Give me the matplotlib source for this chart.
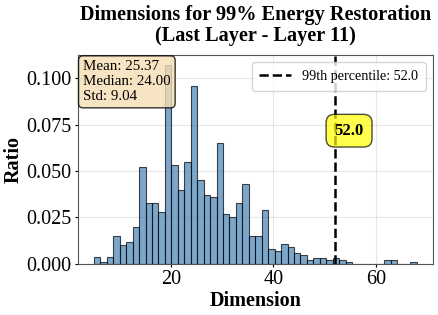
import numpy as np
import matplotlib
matplotlib.use("Agg")
import matplotlib.pyplot as plt

plt.rcParams['font.family'] = ['Liberation Serif', 'DejaVu Serif']

# Histogram (50 bins from 5 to 68), ratio per bin
dim_min, dim_max, n_bins = 5, 68, 50
ratios = [0.004, 0.001, 0.004, 0.015, 0.010, 0.012, 0.020, 0.052, 0.033, 0.033,
          0.028, 0.107, 0.053, 0.040, 0.055, 0.096, 0.045, 0.037, 0.036, 0.065,
          0.027, 0.025, 0.033, 0.043, 0.015, 0.015, 0.029, 0.008, 0.007, 0.011,
          0.009, 0.006, 0.005, 0.002, 0.003, 0.003, 0.002, 0.003, 0.002, 0.001,
          0.000, 0.000, 0.000, 0.000, 0.000, 0.002, 0.002, 0.000, 0.000, 0.001]
percentile_99 = 52.0
stats = {"Mean": 25.37, "Median": 24.00, "Std": 9.04}

edges = np.linspace(dim_min, dim_max, n_bins + 1)
centers = (edges[:-1] + edges[1:]) / 2

fig = plt.figure(figsize=(4.39, 3.15), dpi=100)
ax = fig.add_axes([0.177, 0.162, 0.809, 0.663])

ax.hist(centers, bins=edges, weights=ratios, color='steelblue', alpha=0.7,
        edgecolor='black', linewidth=0.8)
ax.axvline(percentile_99, color='black', linestyle='--', linewidth=1.8,
           label=f'99th percentile: {percentile_99:.1f}')

ax.set_title('Dimensions for 99% Energy Restoration\n(Last Layer - Layer 11)',
             fontsize=14.6, fontweight='bold', linespacing=1.05, pad=10)
ax.set_xlabel('Dimension', fontsize=14.5, fontweight='bold', labelpad=1)
ax.set_ylabel('Ratio', fontsize=14.5, fontweight='bold', labelpad=1.5)
ax.tick_params(axis='both', labelsize=14.5, length=2.5, pad=2)
ax.set_yticks([0.0, 0.025, 0.05, 0.075, 0.1])
ax.yaxis.set_major_formatter(matplotlib.ticker.FormatStrFormatter('%.3f'))
ax.grid(True, alpha=0.3)
ax.set_axisbelow(True)
for s in ax.spines.values():
    s.set_color('#555555')

ymax = max(ratios) * 1.05
ax.set_ylim(0, ymax)
ax.set_xlim(dim_min - 0.05 * (dim_max - dim_min), dim_max + 0.05 * (dim_max - dim_min))

stat_text = '\n'.join(f'{k}: {v:.2f}' for k, v in stats.items())
ax.text(0.015, 0.975, stat_text, transform=ax.transAxes, fontsize=10.8,
        va='top', ha='left', linespacing=1.2,
        bbox=dict(boxstyle='round', facecolor='wheat', alpha=0.8))

ax.text(percentile_99 + 2.8, 0.0717, f'{percentile_99:.1f}', fontsize=12,
        fontweight='bold', ha='center', va='center',
        bbox=dict(boxstyle='round,pad=0.5', facecolor='yellow', alpha=0.7))

ax.legend(loc='upper right', fontsize=10.2, handlelength=2.2, borderpad=0.55)

fig.savefig('out.png', dpi=100)
